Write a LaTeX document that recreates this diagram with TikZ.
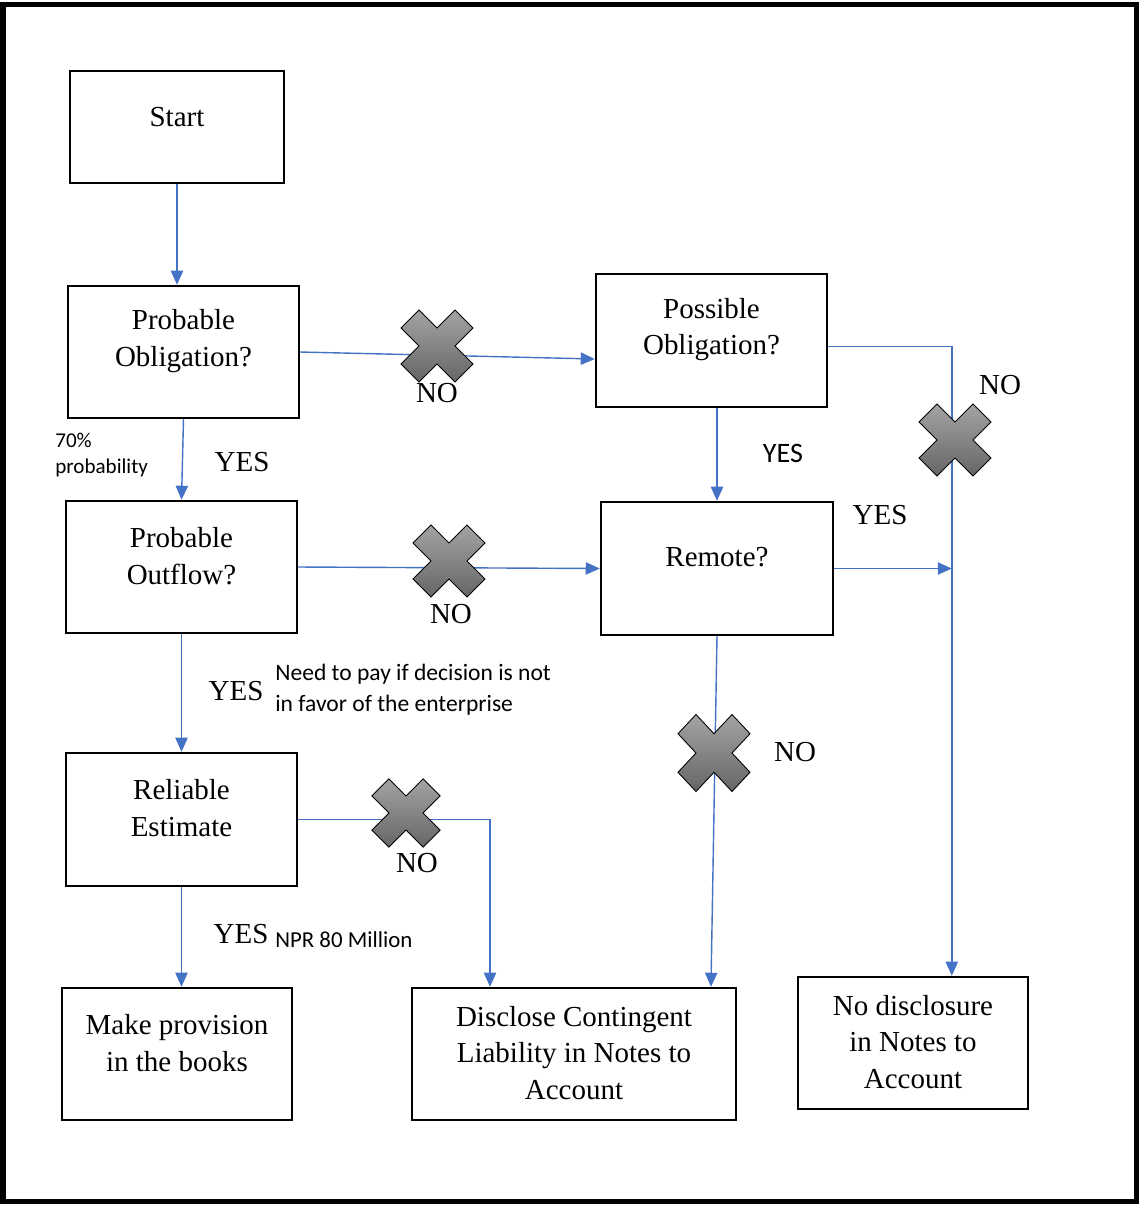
\documentclass[tikz,border=0pt]{standalone}
\usepackage{fontspec}
\setmainfont{Liberation Serif}
\newfontfamily\calfont{Carlito}
\usetikzlibrary{arrows.meta}
\definecolor{linkblue}{HTML}{4472C4}
\tikzset{nocross/.pic={\draw[line width=0.5pt,top color=black!36,bottom color=black!60] (0,18)--(18,36)--(36,18)--(18,0)--(36,-18)--(18,-36)--(0,-18)--(-18,-36)--(-36,-18)--(-18,0)--(-36,18)--(-18,36)--cycle;}}

\begin{document}
\begin{tikzpicture}[x=0.02cm,y=-0.02cm,>={Triangle[length=8pt,width=7pt]},
  box/.style={draw,line width=1.4pt,minimum width=4.62cm,minimum height=2.64cm,inner sep=0pt},
  txt/.style={font=\fontsize{16.5}{20.7}\selectfont,align=center,inner sep=0pt},
  note/.style={font=\calfont\fontsize{13.4}{17.6}\selectfont,align=left,inner sep=0pt},
  link/.style={draw=linkblue,line width=0.8pt}]
\useasboundingbox (0,0) rectangle (1139,1205);
\draw[line width=2.9pt] (3,4.5) rectangle (1136.5,1201.5);

\node[box,minimum width=4.28cm,minimum height=2.24cm] (start) at (177,127) {};
\node[box] (pobl) at (183.5,352) {};
\node[box,minimum height=2.66cm] (posobl) at (711.5,340.5) {};
\node[box] (poutf) at (181.5,567) {};
\node[box,minimum width=4.64cm,minimum height=2.66cm] (remote) at (717,568.5) {};
\node[box,minimum height=2.66cm] (reliable) at (181.5,819.5) {};
\node[box,minimum width=4.6cm] (provision) at (177,1054) {};
\node[box,minimum width=6.48cm] (disclose) at (574,1054) {};
\node[box,minimum width=4.6cm] (nodisc) at (913,1043) {};

\node[txt] (start-t) at (177,117) {Start};
\node[txt] (pobl-t) at (183.5,341) {Probable\\Obligation?};
\node[txt] (posobl-t) at (711.5,329.5) {Possible\\Obligation?};
\node[txt] (poutf-t) at (181.5,556) {Probable\\Outflow?};
\node[txt] (remote-t) at (717,557) {Remote?};
\node[txt] (reliable-t) at (181.5,808) {Reliable\\Estimate};
\node[txt] (provision-t) at (177,1043) {Make provision\\in the books};
\node[txt] (disclose-t) at (574,1053) {Disclose Contingent\\Liability in Notes to\\Account};
\node[txt] (nodisc-t) at (913,1042) {No disclosure\\in Notes to\\Account};

\draw[link,->] (start.south) -- (start.south |- pobl.north);
\draw[link,->] (pobl.east) -- (posobl.189);
\draw[link,->] (pobl.south) -- (poutf.north);
\draw[link,->] (posobl.south -| remote.north) -- (remote.north);
\draw[link,->] (posobl.-3.2) -| (nodisc.60);
\draw[link,->] (poutf.east) -- (remote.west);
\draw[link,->] (remote.east) -- (remote.east -| nodisc.60);
\draw[link,->] (poutf.south) -- (reliable.north);
\draw[link,->] (remote.south) -- ([xshift=2.74cm]disclose.north);
\draw[link,->] (reliable.east) -| ([xshift=-1.68cm]disclose.north);
\draw[link,->] (reliable.south) -- (reliable.south |- provision.north);

\pic at (437,346) {nocross};
\pic at (449,561) {nocross};
\pic at (955,440) {nocross};
\pic[yscale=1.07] at (714,753) {nocross};
\pic[scale=0.95] at (406,813) {nocross};

\node[txt] (no1) at (437,393) {NO};
\node[txt] (yes1) at (242,462) {YES};
\node[note,font=\calfont\fontsize{12}{15.3}\selectfont,anchor=west] (prob) at (55,455) {70\%\\probability};
\node[txt,font=\calfont\fontsize{16}{20}\selectfont] (yes2) at (783,453) {YES};
\node[txt] (no2) at (1000,385) {NO};
\node[txt] (yes3) at (880,515) {YES};
\node[txt] (no3) at (451,614) {NO};
\node[txt] (yes4) at (236,691) {YES};
\node[note,anchor=west] (pay) at (275,690) {Need to pay if decision is not\\in favor of the enterprise};
\node[txt] (no4) at (795,752) {NO};
\node[txt] (no5) at (417,863) {NO};
\node[txt] (yes5) at (241,934) {YES};
\node[note,anchor=west,font=\calfont\fontsize{13}{16}\selectfont] (npr) at (275,940) {NPR 80 Million};
\end{tikzpicture}
\end{document}
